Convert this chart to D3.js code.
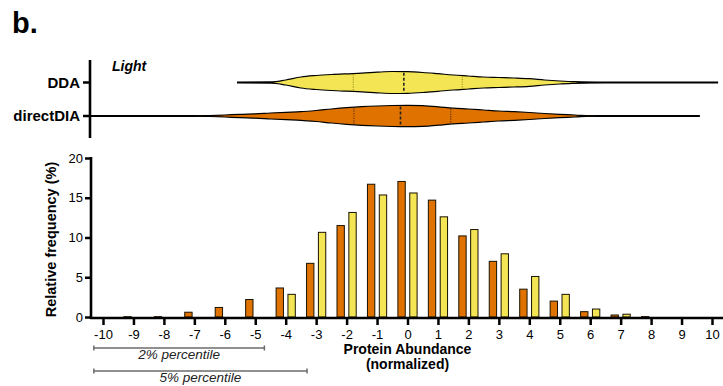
<!DOCTYPE html>
<html>
<head>
<meta charset="utf-8">
<script src="https://cdn.jsdelivr.net/npm/d3@7"></script>
<style>
  body { margin: 0; background: #fff; }
  svg { display: block; font-family: "Liberation Sans", Arial, sans-serif; }
</style>
</head>
<body>
<svg id="chart" width="723" height="386"></svg>
<script>
// Histogram bins (protein abundance, normalized)
const bins = [-10, -9, -8, -7, -6, -5, -4, -3, -2, -1, 0, 1, 2, 3, 4, 5, 6, 7, 8, 9, 10];
const directDIAFreq = [0, 0.04, 0.04, 0.6, 1.2, 2.2, 3.65, 6.75, 11.5, 16.7, 17.05, 14.7, 10.2, 7.0, 3.5, 2.0, 0.67, 0.25, 0.05, 0, 0];
const ddaFreq = [0, 0, 0, 0, 0, 0, 2.85, 10.65, 13.15, 15.35, 15.6, 12.6, 11.0, 7.95, 5.1, 2.85, 1.0, 0.35, 0, 0, 0];
const yTicks = [0, 5, 10, 15, 20];

// Violin profiles (kernel density at positions)
const ddaPos = [-5.6, -4.5, -4.0, -3.5, -3.0, -2.5, -2.0, -1.5, -1.0, -0.5, 0, 0.5, 1.0, 1.5, 2.0, 2.5, 3.0, 3.5, 4.0, 4.5, 5.0, 5.5, 6.0, 6.5, 10.2];
const ddaDensity = [0, 0.003, 0.025, 0.055, 0.07, 0.08, 0.087, 0.093, 0.103, 0.11, 0.108, 0.1, 0.088, 0.075, 0.065, 0.055, 0.05, 0.045, 0.038, 0.025, 0.015, 0.008, 0.002, 0, 0];
const diaPos = [-10.4, -7.0, -6.5, -6.0, -5.5, -5.0, -4.5, -4.0, -3.5, -3.0, -2.5, -2.0, -1.5, -1.0, -0.5, 0, 0.5, 1.0, 1.5, 2.0, 2.5, 3.0, 3.5, 4.0, 4.5, 5.0, 5.5, 6.0, 6.5, 9.6];
const diaDensity = [0, 0, 0.004, 0.01, 0.017, 0.022, 0.03, 0.037, 0.043, 0.055, 0.07, 0.083, 0.093, 0.1, 0.105, 0.107, 0.103, 0.092, 0.078, 0.07, 0.06, 0.05, 0.043, 0.035, 0.025, 0.017, 0.01, 0.002, 0, 0];
// quartiles [q1, median, q3]
const ddaQuartiles = [-1.78, -0.12, 1.8];
const diaQuartiles = [-1.76, -0.23, 1.42];

// percentile ranges
const percentileLabels = ["2% percentile", "5% percentile"];
const percentileRanges = [[-10.3, -4.7], [-10.3, -3.3]];

const yellow = "#F3E553";
const orange = "#E07300";

const svg = d3.select("#chart");

// ---------- bottom histogram ----------
const x = d3.scaleLinear().domain([-10, 10]).range([103, 712]);
const y = d3.scaleLinear().domain([0, 20]).range([317, 158]);
const inner = d3.scaleBand().domain(["directDIA", "DDA"]).range([-9.6, 9.6]).paddingInner(0.38);

const series = [
  { key: "directDIA", values: directDIAFreq, fill: orange },
  { key: "DDA", values: ddaFreq, fill: yellow }
];

series.forEach(s => {
  svg.append("g")
    .selectAll("rect")
    .data(bins.map((b, i) => ({ bin: b, v: s.values[i] })).filter(d => d.v > 0))
    .enter()
    .append("rect")
    .attr("x", d => x(d.bin) + inner(s.key))
    .attr("y", d => y(d.v))
    .attr("width", inner.bandwidth())
    .attr("height", d => y(0) - y(d.v))
    .attr("fill", s.fill)
    .attr("stroke", "#1a1200")
    .attr("stroke-width", 1);
});

// x axis
const xAxis = svg.append("g")
  .attr("transform", `translate(0,${y(0) + 1})`)
  .call(d3.axisBottom(x).tickValues(bins).tickSize(7).tickSizeOuter(0).tickFormat(d3.format("d")));
xAxis.select(".domain").remove();
xAxis.selectAll(".tick line").attr("stroke", "#000").attr("stroke-width", 2.5);
xAxis.selectAll(".tick text").attr("font-size", 13).attr("fill", "#000").attr("dy", "1em").attr("y", 8)
  .text(d => d < 0 ? "-" + Math.abs(d) : d);
svg.append("line")
  .attr("x1", 90).attr("x2", 723)
  .attr("y1", y(0) + 1).attr("y2", y(0) + 1)
  .attr("stroke", "#000").attr("stroke-width", 2.6);

// y axis
const yAxis = svg.append("g")
  .attr("transform", "translate(91,0)")
  .call(d3.axisLeft(y).tickValues(yTicks).tickSize(6).tickSizeOuter(0));
yAxis.select(".domain").remove();
yAxis.selectAll(".tick line").attr("stroke", "#000").attr("stroke-width", 2.5);
yAxis.selectAll(".tick text").attr("font-size", 13).attr("fill", "#000").attr("x", -8);
svg.append("line")
  .attr("x1", 91).attr("x2", 91)
  .attr("y1", y(20) - 1).attr("y2", y(0) + 2)
  .attr("stroke", "#000").attr("stroke-width", 2.6);

svg.append("text")
  .attr("transform", `translate(56,${(y(0) + y(20)) / 2 + 2}) rotate(-90)`)
  .attr("text-anchor", "middle")
  .attr("font-size", 14.5).attr("font-weight", "bold")
  .text("Relative frequency (%)");

svg.append("text")
  .attr("x", x(0)).attr("y", 354)
  .attr("text-anchor", "middle")
  .attr("font-size", 14).attr("font-weight", "bold")
  .text("Protein Abundance");
svg.append("text")
  .attr("x", x(0)).attr("y", 369)
  .attr("text-anchor", "middle")
  .attr("font-size", 14).attr("font-weight", "bold")
  .text("(normalized)");

// percentile markers
const pY = [348, 371];
percentileRanges.forEach((r, i) => {
  const g = svg.append("g").attr("stroke", "#6b6b6b").attr("stroke-width", 1.5);
  g.append("line").attr("x1", x(r[0])).attr("x2", x(r[1])).attr("y1", pY[i]).attr("y2", pY[i]);
  g.append("line").attr("x1", x(r[0])).attr("x2", x(r[0])).attr("y1", pY[i] - 2.5).attr("y2", pY[i] + 2.5);
  g.append("line").attr("x1", x(r[1])).attr("x2", x(r[1])).attr("y1", pY[i] - 2.5).attr("y2", pY[i] + 2.5);
  svg.append("text")
    .attr("x", (x(r[0]) + x(r[1])) / 2).attr("y", pY[i] + 11)
    .attr("text-anchor", "middle")
    .attr("font-size", 13.5).attr("font-style", "italic").attr("fill", "#222")
    .text(percentileLabels[i]);
});

// ---------- top violins ----------
const yv = d3.scalePoint().domain(["DDA", "directDIA"]).range([82.5, 116]);
const w = d3.scaleLinear().domain([0, 0.11]).range([0, 11]);

const violins = [
  { key: "DDA", pos: ddaPos, dens: ddaDensity, q: ddaQuartiles, fill: yellow, qColor: "#a89a20" },
  { key: "directDIA", pos: diaPos, dens: diaDensity, q: diaQuartiles, fill: orange, qColor: "#6b3300" }
];

violins.forEach(v => {
  const cy = yv(v.key);
  const pts = v.pos.map((p, i) => ({ p, d: v.dens[i] }));
  svg.append("line")
    .attr("x1", Math.max(x(v.pos[0]), 91)).attr("x2", x(v.pos[v.pos.length - 1]))
    .attr("y1", cy).attr("y2", cy)
    .attr("stroke", "#000").attr("stroke-width", 2);
  const area = d3.area()
    .x(d => x(d.p))
    .y0(d => cy - w(d.d))
    .y1(d => cy + w(d.d))
    .curve(d3.curveMonotoneX);
  svg.append("path")
    .datum(pts)
    .attr("d", area)
    .attr("fill", v.fill)
    .attr("stroke", "#000")
    .attr("stroke-width", 1.2);
  const densAt = d3.scaleLinear().domain(v.pos).range(v.dens);
  v.q.forEach((qv, i) => {
    const h = w(densAt(qv)) - 1;
    svg.append("line")
      .attr("x1", x(qv)).attr("x2", x(qv))
      .attr("y1", cy - h).attr("y2", cy + h)
      .attr("stroke", i === 1 ? "#222" : v.qColor)
      .attr("stroke-width", i === 1 ? 1.6 : 1.2)
      .attr("stroke-dasharray", i === 1 ? "3,2" : "1.2,1.2");
  });
});

// violin axis
svg.append("line")
  .attr("x1", 90).attr("x2", 90).attr("y1", 60).attr("y2", 138)
  .attr("stroke", "#000").attr("stroke-width", 2.6);
yv.domain().forEach(k => {
  svg.append("line")
    .attr("x1", 83).attr("x2", 90).attr("y1", yv(k)).attr("y2", yv(k))
    .attr("stroke", "#000").attr("stroke-width", 2.5);
  svg.append("text")
    .attr("x", 80).attr("y", yv(k)).attr("dy", "0.36em")
    .attr("text-anchor", "end")
    .attr("font-size", 15).attr("font-weight", "bold")
    .text(k);
});

svg.append("text")
  .attr("x", 112).attr("y", 71)
  .attr("font-size", 14).attr("font-weight", "bold").attr("font-style", "italic")
  .text("Light");

svg.append("text")
  .attr("x", 12).attr("y", 33)
  .attr("font-size", 29).attr("font-weight", "bold")
  .text("b.");
</script>
</body>
</html>
